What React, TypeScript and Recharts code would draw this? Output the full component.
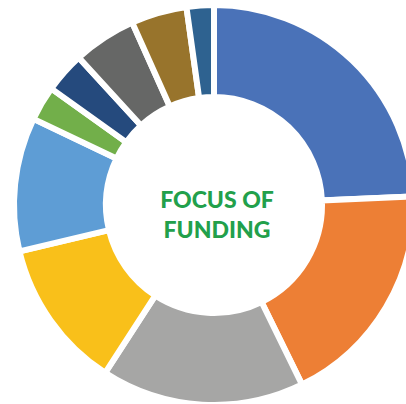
import { PieChart, Pie, Cell } from "recharts"

const categories = ["A", "B", "C", "D", "E", "F", "G", "H", "I", "J"]
const shares = [24.3, 18.4, 16.4, 12.1, 10.8, 2.8, 3.3, 5.1, 4.5, 2.2]
const colors = [
  "#4a72b8",
  "#ed7f35",
  "#a6a6a5",
  "#f9c01a",
  "#5e9dd5",
  "#72af4a",
  "#254a7d",
  "#666766",
  "#98742c",
  "#2e6290",
]
const centerLines = ["FOCUS OF", "FUNDING"]

const data = categories.map((name, i) => ({ name, value: shares[i] }))

export default function App() {
  return (
    <div style={{ position: "absolute", left: 0, top: 0, width: 406, height: 404, background: "#fff" }}>
      <PieChart width={406} height={404} margin={{ top: 0, right: 0, bottom: 0, left: 0 }}>
        <Pie
          data={data}
          dataKey="value"
          cx={214}
          cy={205}
          innerRadius={108}
          outerRadius={200}
          startAngle={90}
          endAngle={-270}
          stroke="#fff"
          strokeWidth={6}
          isAnimationActive={false}
        >
          {data.map((d, i) => (
            <Cell key={d.name} fill={colors[i]} />
          ))}
        </Pie>
      </PieChart>
      <div
        style={{
          position: "absolute",
          left: 117,
          top: 184,
          width: 200,
          textAlign: "center",
          color: "#22a04b",
          fontFamily: "Lato, sans-serif",
          fontWeight: 900,
          fontSize: 23,
          lineHeight: "30px",
        }}
      >
        {centerLines.map((t) => (
          <div key={t}>{t}</div>
        ))}
      </div>
    </div>
  )
}
